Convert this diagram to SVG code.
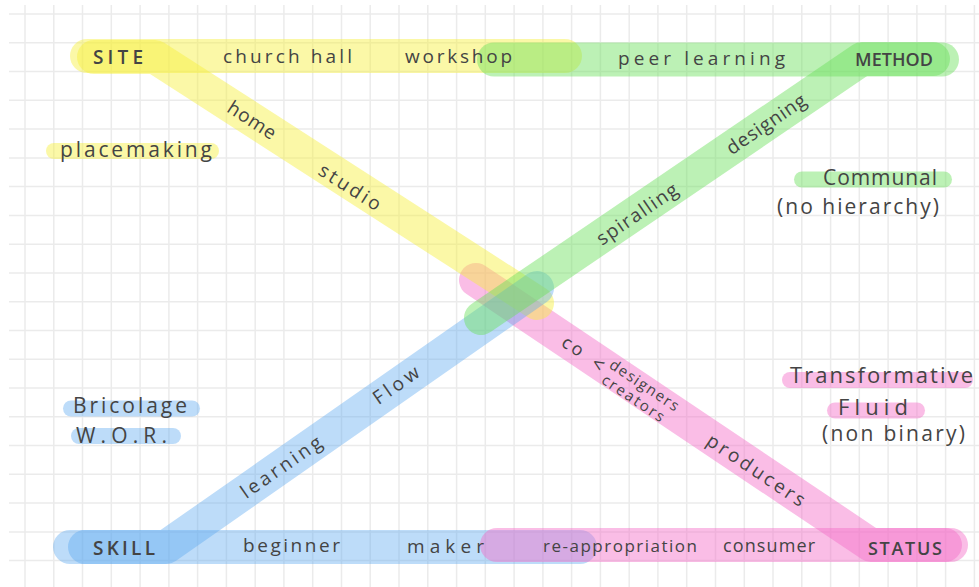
<svg xmlns="http://www.w3.org/2000/svg" width="979" height="587" viewBox="0 0 979 587">
<style>
.grid line{stroke:#ebebeb;stroke-width:1.5}
.bar{fill:none;stroke-width:34;stroke-linecap:round;stroke-linejoin:round}
.y{stroke:#f7ef3c;stroke-opacity:0.45}
.g{stroke:#6be05a;stroke-opacity:0.45}
.b{stroke:#5aa8f0;stroke-opacity:0.4}
.p{stroke:#f56cc8;stroke-opacity:0.45}
.hl{stroke-width:16;stroke-linecap:round;fill:none}
text{font-family:"Open Sans","DejaVu Sans",sans-serif;fill:#444444;font-size:19px}
.cap{font-size:19px;font-weight:600}
.rot{text-anchor:middle}
</style>
<rect width="979" height="587" fill="#ffffff"/>
<g class="grid" id="grid">
<line x1="25" y1="5" x2="25" y2="587"/><line x1="53.8" y1="5" x2="53.8" y2="587"/><line x1="82.5" y1="5" x2="82.5" y2="587"/><line x1="111.3" y1="5" x2="111.3" y2="587"/><line x1="140.1" y1="5" x2="140.1" y2="587"/><line x1="168.9" y1="5" x2="168.9" y2="587"/><line x1="197.6" y1="5" x2="197.6" y2="587"/><line x1="226.4" y1="5" x2="226.4" y2="587"/><line x1="255.2" y1="5" x2="255.2" y2="587"/><line x1="283.9" y1="5" x2="283.9" y2="587"/><line x1="312.7" y1="5" x2="312.7" y2="587"/><line x1="341.5" y1="5" x2="341.5" y2="587"/><line x1="370.2" y1="5" x2="370.2" y2="587"/><line x1="399" y1="5" x2="399" y2="587"/><line x1="427.8" y1="5" x2="427.8" y2="587"/><line x1="456.6" y1="5" x2="456.6" y2="587"/><line x1="485.3" y1="5" x2="485.3" y2="587"/><line x1="514.1" y1="5" x2="514.1" y2="587"/><line x1="542.9" y1="5" x2="542.9" y2="587"/><line x1="571.6" y1="5" x2="571.6" y2="587"/><line x1="600.4" y1="5" x2="600.4" y2="587"/><line x1="629.2" y1="5" x2="629.2" y2="587"/><line x1="657.9" y1="5" x2="657.9" y2="587"/><line x1="686.7" y1="5" x2="686.7" y2="587"/><line x1="715.5" y1="5" x2="715.5" y2="587"/><line x1="744.3" y1="5" x2="744.3" y2="587"/><line x1="773" y1="5" x2="773" y2="587"/><line x1="801.8" y1="5" x2="801.8" y2="587"/><line x1="830.6" y1="5" x2="830.6" y2="587"/><line x1="859.3" y1="5" x2="859.3" y2="587"/><line x1="888.1" y1="5" x2="888.1" y2="587"/><line x1="916.9" y1="5" x2="916.9" y2="587"/><line x1="945.6" y1="5" x2="945.6" y2="587"/><line x1="974.4" y1="5" x2="974.4" y2="587"/>
<line x1="9" y1="14" x2="979" y2="14"/><line x1="9" y1="42.8" x2="979" y2="42.8"/><line x1="9" y1="71.5" x2="979" y2="71.5"/><line x1="9" y1="100.3" x2="979" y2="100.3"/><line x1="9" y1="129.1" x2="979" y2="129.1"/><line x1="9" y1="157.9" x2="979" y2="157.9"/><line x1="9" y1="186.6" x2="979" y2="186.6"/><line x1="9" y1="215.4" x2="979" y2="215.4"/><line x1="9" y1="244.2" x2="979" y2="244.2"/><line x1="9" y1="272.9" x2="979" y2="272.9"/><line x1="9" y1="301.7" x2="979" y2="301.7"/><line x1="9" y1="330.5" x2="979" y2="330.5"/><line x1="9" y1="359.2" x2="979" y2="359.2"/><line x1="9" y1="388" x2="979" y2="388"/><line x1="9" y1="416.8" x2="979" y2="416.8"/><line x1="9" y1="445.6" x2="979" y2="445.6"/><line x1="9" y1="474.3" x2="979" y2="474.3"/><line x1="9" y1="503.1" x2="979" y2="503.1"/><line x1="9" y1="531.9" x2="979" y2="531.9"/><line x1="9" y1="560.6" x2="979" y2="560.6"/>
</g>
<g id="connectors">
<line class="bar y" x1="87" y1="56" x2="565" y2="56"/>
<line class="bar g" x1="494" y1="59.5" x2="942" y2="59.5"/>
<line class="bar b" x1="70" y1="547" x2="580" y2="547"/>
<line class="bar p" x1="497" y1="545" x2="951" y2="545"/>
<path class="bar p" d="M945 545 L871 545 L476 280"/>
<path class="bar y" d="M94 57 L155 57 L537 303"/>
<path class="bar b" d="M85 547 L166 547 L537 288"/>
<path class="bar g" d="M933 59 L862 59 L481 318"/>
</g>
<g id="highlights">
<line class="hl y" x1="54" y1="151" x2="211" y2="151"/>
<line class="hl g" x1="802" y1="179.5" x2="944" y2="179.5"/>
<line class="hl p" x1="790" y1="380" x2="965" y2="380"/>
<line class="hl p" x1="835" y1="410.5" x2="917" y2="410.5"/>
<line class="hl b" x1="71" y1="408.5" x2="192" y2="408.5"/>
<line class="hl b" x1="79" y1="436" x2="173" y2="436"/>
</g>
<g id="node-site"><text class="cap" x="93" y="64" textLength="50" lengthAdjust="spacing">SITE</text></g>
<g id="node-method"><text class="cap" x="855" y="66" font-size="18" textLength="78" lengthAdjust="spacing" style="font-size:18px">METHOD</text></g>
<g id="node-skill"><text class="cap" x="93" y="555" textLength="62" lengthAdjust="spacing">SKILL</text></g>
<g id="node-status"><text class="cap" x="868" y="555" textLength="74" lengthAdjust="spacing" style="font-size:18px">STATUS</text></g>
<g id="labels-site">
<text x="223" y="63" textLength="129" lengthAdjust="spacing">church hall</text>
<text x="405" y="63" textLength="107" lengthAdjust="spacing">workshop</text>
<text class="rot" transform="translate(252,120) rotate(32.8)" dy="0.35em" textLength="54" lengthAdjust="spacing">home</text>
<text class="rot" transform="translate(350,187) rotate(32.8)" dy="0.35em" textLength="70" lengthAdjust="spacing">studio</text>
<text x="60" y="157" style="font-size:21px" textLength="152" lengthAdjust="spacing">placemaking</text>
</g>
<g id="labels-method">
<text x="618" y="65" textLength="167" lengthAdjust="spacing">peer learning</text>
<text class="rot" transform="translate(637,214) rotate(-34.3)" dy="0.35em" textLength="94" lengthAdjust="spacing">spiralling</text>
<text class="rot" transform="translate(766,124) rotate(-34.3)" dy="0.35em" textLength="92" lengthAdjust="spacing">designing</text>
<text x="823" y="185" style="font-size:21px" textLength="114" lengthAdjust="spacing">Communal</text>
<text x="777" y="214" style="font-size:21px" textLength="162" lengthAdjust="spacing">(no hierarchy)</text>
</g>
<g id="labels-skill">
<text x="243" y="552" textLength="97" lengthAdjust="spacing">beginner</text>
<text x="407" y="553" textLength="77" lengthAdjust="spacing">maker</text>
<text class="rot" transform="translate(281,467) rotate(-34.9)" dy="0.35em" textLength="94" lengthAdjust="spacing">learning</text>
<text class="rot" transform="translate(396,385) rotate(-34.9)" dy="0.35em" textLength="52" lengthAdjust="spacing">Flow</text>
<text x="73" y="413" style="font-size:21px" textLength="114" lengthAdjust="spacing">Bricolage</text>
<text x="76" y="443" style="font-size:21px" textLength="91" lengthAdjust="spacing">W.O.R.</text>
</g>
<g id="labels-status">
<text x="543" y="552" style="font-size:17px" textLength="154" lengthAdjust="spacing">re-appropriation</text>
<text x="723" y="552" style="font-size:18px" textLength="92" lengthAdjust="spacing">consumer</text>
<text class="rot" transform="translate(756,470) rotate(33.8)" dy="0.35em" textLength="114" lengthAdjust="spacing">producers</text>
<g transform="translate(573,346) rotate(33.8)">
<text class="rot" x="0" y="0" dy="0.35em" style="font-size:18px" textLength="22" lengthAdjust="spacing">co</text>
<text class="rot" x="31" y="1" dy="0.35em" style="font-size:20px">&lt;</text>
<text x="41" y="-2" style="font-size:15px" textLength="80" lengthAdjust="spacing">designers</text>
<text x="43" y="15" style="font-size:15px" textLength="72" lengthAdjust="spacing">creators</text>
</g>
<text x="790" y="383" style="font-size:22px" textLength="183" lengthAdjust="spacing">Transformative</text>
<text x="838" y="415" style="font-size:22px" textLength="70" lengthAdjust="spacing">Fluid</text>
<text x="822" y="441" style="font-size:21px" textLength="143" lengthAdjust="spacing">(non binary)</text>
</g>
</svg>
